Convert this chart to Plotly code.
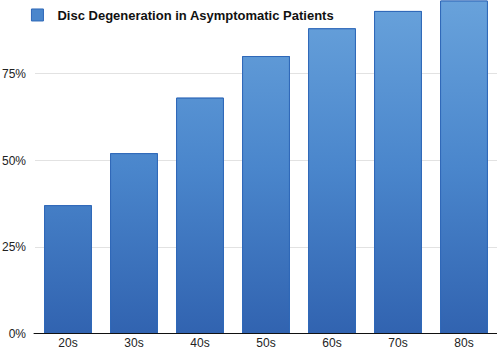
import plotly.graph_objects as go

categories = ["20s", "30s", "40s", "50s", "60s", "70s", "80s"]
values = [37, 52, 68, 80, 88, 93, 96]
series_name = "Disc Degeneration in Asymptomatic Patients"
y_ticks = [0, 25, 50, 75]
y_tick_labels = ["0%", "25%", "50%", "75%"]

bar_width = 0.71
positions = list(range(len(categories)))

fig = go.Figure()
# Base bars (data drawn via the library's bar trace)
fig.add_trace(go.Bar(
    x=positions, y=values, name=series_name, width=bar_width,
    marker=dict(color="#4a86cc", line=dict(color="#2f68b8", width=1)),
    showlegend=True,
))

# Gradient overlay built from the same values
gx, gy = [], []
for p, v in zip(positions, values):
    gx += [p - bar_width / 2, p - bar_width / 2, p + bar_width / 2, p + bar_width / 2, p - bar_width / 2, None]
    gy += [0, v, v, 0, 0, None]
fig.add_trace(go.Scatter(
    x=gx, y=gy, mode="lines", fill="toself",
    line=dict(color="#2f68b8", width=1),
    fillgradient=dict(type="vertical", start=0, stop=96,
                      colorscale=[[0, "#3163b0"], [0.5, "#4a86cc"], [1, "#68a2db"]]),
    hoverinfo="skip", showlegend=False,
))

fig.update_layout(
    width=500, height=351,
    margin=dict(l=35, r=3, t=0, b=17),
    paper_bgcolor="white", plot_bgcolor="white",
    font=dict(family="Liberation Sans, Arial, sans-serif", color="#222222", size=12),
    legend=dict(x=-0.038, y=0.955, xanchor="left", yanchor="middle",
                bgcolor="rgba(0,0,0,0)",
                font=dict(size=13, color="#111111", family="Liberation Sans, Arial, sans-serif",
                          weight="bold"),
                itemwidth=30),
    xaxis=dict(range=[-0.5, len(categories) - 0.5], tickvals=positions, ticktext=categories,
               showgrid=False, showline=False, zeroline=False, ticks="", tickfont=dict(size=12)),
    yaxis=dict(range=[0, 96.3], tickvals=y_ticks, ticktext=y_tick_labels,
               showgrid=True, gridcolor="#e2e2e2", gridwidth=1,
               zeroline=False, showline=False, ticks="", ticklabelstandoff=8,
               tickfont=dict(size=12)),
    shapes=[dict(type="line", xref="paper", yref="y", x0=-0.003, x1=1, y0=0, y1=0,
                 line=dict(color="#111111", width=2))],
)

fig.write_html("out.html")
